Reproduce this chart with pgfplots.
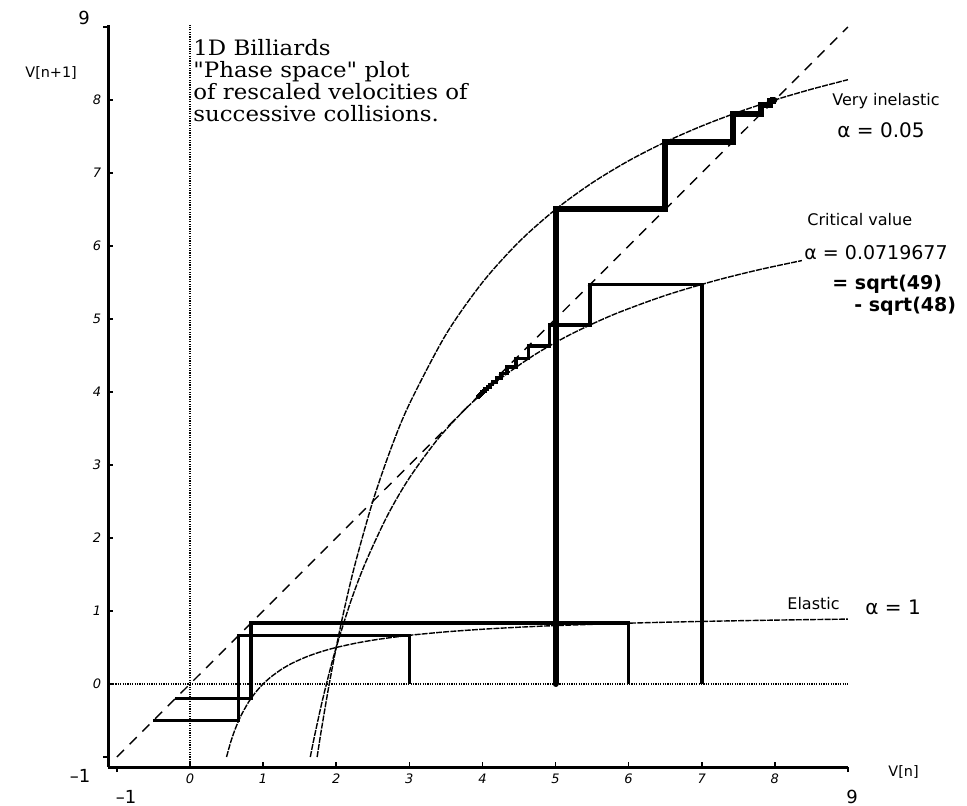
\documentclass[border=0pt]{standalone}
\usepackage{pgfplots}
\pgfplotsset{compat=1.18}
\usepackage{fontspec}
\setmainfont{DejaVu Serif}
\newfontfamily\titlefont{DejaVu Serif}[Ligatures=TeXOff, FakeStretch=1.08]
\newfontfamily\gen{DejaVu Sans}
\begin{document}
\begin{tikzpicture}
\useasboundingbox (0,0) rectangle (483.5pt,403pt);
\begin{axis}[
  at={(95pt,61pt)}, anchor=origin,
  x=36.55pt, y=36.5pt,
  xmin=-1.12, xmax=9, ymin=-1.14, ymax=9.03,
  axis x line=bottom, axis y line=left,
  axis line style={line width=1.6pt, -},
  xtick={0,1,2,3,4,5,6,7,8}, ytick={0,1,2,3,4,5,6,7,8},
  xticklabels={0,1,2,3,4,5,6,7,8}, yticklabels={0,1,2,3,4,5,6,7,8},
  tick align=inside,
  major tick length=2.5pt,
  tick style={line width=0.8pt, black},
  extra x ticks={-1,9}, extra x tick labels={}, extra x tick style={tick align=outside},
  extra y ticks={-1,9}, extra y tick labels={}, extra y tick style={tick align=outside},
  ticklabel style={font=\gen\itshape\fontsize{6.5}{7}\selectfont},
  clip=false,
]
% reference lines
\addplot[line width=0.6pt, dash pattern=on 0.6pt off 0.6pt] coordinates {(0,-1.14) (0,9.03)};
\addplot[line width=0.6pt, dash pattern=on 0.6pt off 0.6pt] coordinates {(-1.12,0) (9,0)};
\addplot[line width=0.7pt, dash pattern=on 5pt off 4pt] coordinates {(-1,-1) (9,9)};
% curves
\addplot[line width=0.7pt, dash pattern=on 3pt off 0.6pt, smooth] coordinates {
(0.5,-1) (0.55,-0.8182) (0.6,-0.6667) (0.65,-0.5385) (0.7,-0.4286) (0.8,-0.25) (0.9,-0.1111)
(1,0) (1.1,0.0909) (1.25,0.2) (1.4,0.2857) (1.6,0.375) (1.8,0.4444) (2,0.5) (2.3,0.5652)
(2.6,0.6154) (3,0.6667) (3.5,0.7143) (4,0.75) (4.5,0.7778) (5,0.8) (6,0.8333) (7,0.8571)
(8,0.875) (9,0.8889)};
\addplot[line width=0.7pt, dash pattern=on 3pt off 0.6pt, smooth] coordinates {
(1.7391,-1) (1.8,-0.6111) (1.9,-0.0263) (2,0.5) (2.1,0.9762) (2.25,1.6111) (2.5,2.5)
(2.75,3.2273) (3,3.8333) (3.5,4.7857) (4,5.5) (4.5,6.0556) (5,6.5) (5.5,6.8636) (6,7.1667)
(6.5,7.4231) (7,7.6429) (7.5,7.8333) (8,8) (8.5,8.1471) (9,8.2778)};
\addplot[line width=0.7pt, dash pattern=on 3pt off 0.6pt, smooth] coordinates {
(1.6456,-1) (1.7,-0.729) (1.8,-0.2738) (1.9,0.1335) (2,0.5) (2.2,1.1331) (2.4,1.6607)
(2.7,2.3055) (3,2.8214) (3.4,3.3676) (3.8,3.7988) (4.2,4.1479) (4.7,4.5007) (5.2,4.7856)
(5.8,5.0627) (6.5,5.3213) (7.2,5.5296) (7.8,5.6784) (8.37,5.8)};
% elastic cobwebs
\addplot[line width=1.7pt] coordinates {(3,0) (3,0.6667) (0.6667,0.6667) (0.6667,-0.5) (-0.5,-0.5)};
\addplot[line width=1.7pt] coordinates {(6,0) (6,0.8333) (0.8333,0.8333) (0.8333,-0.2) (-0.2,-0.2)};
% critical cobweb
\addplot[line width=1.8pt] coordinates {(7,0) (7,5.4744) (5.4744,5.4744) (5.4744,4.9198) (4.9198,4.9198)
(4.9198,4.6331) (4.6331,4.6331) (4.6331,4.4578) (4.4578,4.4578) (4.4578,4.3397) (4.3397,4.3397)
(4.3397,4.2546) (4.2546,4.2546) (4.2546,4.1904) (4.1904,4.1904) (4.1904,4.1403) (4.1403,4.1403)
(4.1403,4.1000) (4.1000,4.1000) (4.1000,4.0670) (4.0670,4.0670) (4.0670,4.0394) (4.0394,4.0394)
(4.0394,4.0160) (4.0160,4.0160) (4.0160,3.9960) (3.9960,3.9960) (3.9960,3.9785) (3.9785,3.9785)
(3.9785,3.9633) (3.9633,3.9633) (3.9633,3.9498) (3.9498,3.9498) (3.9498,3.9378) (3.9378,3.9378)
(3.9378,3.9270) (3.9270,3.9270)};
% very inelastic cobweb
\addplot[line width=3pt, line cap=round] coordinates {(5,0) (5,6.5) (6.5,6.5) (6.5,7.4231) (7.4231,7.4231)
(7.4231,7.8057) (7.8057,7.8057) (7.8057,7.9378) (7.9378,7.9378) (7.9378,7.9804) (7.9804,7.9804)
(7.9804,7.9939) (7.9939,7.9939)};
\end{axis}
% endpoint tick labels
\node[font=\gen\fontsize{9}{10}\selectfont] at (42pt,394pt) {9};
\node[font=\gen\fontsize{9}{10}\selectfont] at (40pt,15pt) {–1};
\node[font=\gen\fontsize{9}{10}\selectfont] at (63pt,4.5pt) {–1};
\node[font=\gen\fontsize{9}{10}\selectfont] at (426pt,4.5pt) {9};
% axis titles
\node[font=\gen\fontsize{7.2}{8}\selectfont, anchor=base west, inner sep=0pt] at (12.5pt,364pt) {V[n+1]};
\node[font=\gen\fontsize{7.2}{8}\selectfont, anchor=base west, inner sep=0pt] at (444pt,14.5pt) {V[n]};
% title block
\node[font=\titlefont\fontsize{10.6}{11}\selectfont, anchor=base west, inner sep=0pt, align=left] at (96.5pt,342pt)
  {1D Billiards\\"Phase space" plot\\of rescaled velocities of\\successive collisions.};
% annotations
\node[font=\gen\fontsize{8}{9}\selectfont, anchor=base west, inner sep=0pt] at (416pt,350pt) {Very inelastic};
\node[font=\gen\fontsize{10}{11}\selectfont, anchor=base west, inner sep=0pt] at (418.5pt,334pt) {α = 0.05};
\node[font=\gen\fontsize{8}{9}\selectfont, anchor=base west, inner sep=0pt] at (403.5pt,290pt) {Critical value};
\node[font=\gen\fontsize{9.5}{11}\selectfont, anchor=base west, inner sep=0pt] at (402pt,273pt) {α = 0.0719677};
\node[font=\gen\bfseries\fontsize{9.5}{11}\selectfont, anchor=base west, inner sep=0pt] at (416pt,258pt) {= sqrt(49)};
\node[font=\gen\bfseries\fontsize{9.5}{11}\selectfont, anchor=base west, inner sep=0pt] at (427pt,247pt) {- sqrt(48)};
\node[font=\gen\fontsize{8}{9}\selectfont, anchor=base west, inner sep=0pt] at (393.5pt,98pt) {Elastic};
\node[font=\gen\fontsize{10}{11}\selectfont, anchor=base west, inner sep=0pt] at (432.5pt,95.5pt) {α = 1};
\end{tikzpicture}
\end{document}
